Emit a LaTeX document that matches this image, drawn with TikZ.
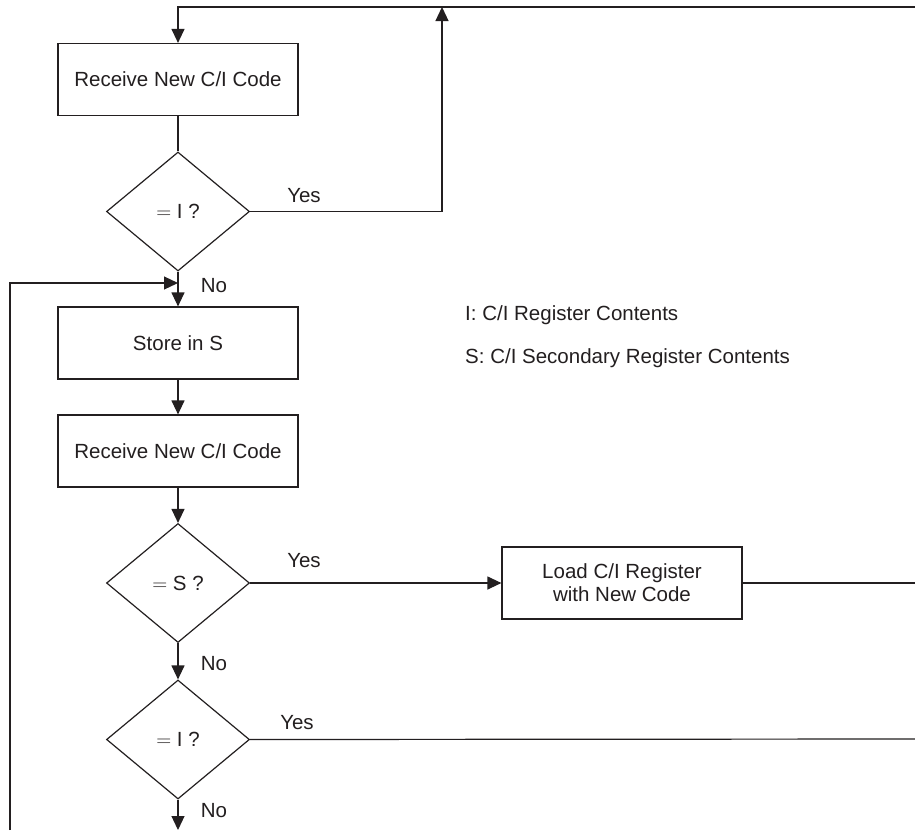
\documentclass[tikz,border=0pt]{standalone}
\usepackage{fontspec}
\setmainfont{Liberation Sans}
\usetikzlibrary{arrows.meta,shapes.geometric}
\definecolor{ink}{HTML}{231F20}
\begin{document}
\begin{tikzpicture}[x=1pt,y=-1pt,
  every node/.style={font=\fontsize{20.5pt}{24pt}\selectfont, text=ink},
  line/.style={draw=ink, line width=1.2pt},
  arr/.style={line, -{Triangle[length=14pt,width=13pt]}},
  procbox/.style={draw=ink, line width=1.2pt, rectangle, minimum width=240pt, minimum height=72pt, inner sep=0pt, align=center},
  decis/.style={draw=ink, line width=1.2pt, diamond, minimum width=143pt, minimum height=119pt, inner sep=0pt},
  lbl/.style={inner sep=0pt}]
\useasboundingbox (0,0) rectangle (915,830);
\fill[white] (0,0) rectangle (915,830);

\node[procbox] (b1) at (178,79.5) {Receive New C/I Code};
\node[decis] (d1) at (178,211.5) {$=$ I ?};
\node[procbox] (b2) at (178,343) {Store in S};
\node[procbox] (b3) at (178,451) {Receive New C/I Code};
\node[decis] (d2) at (178,583) {$=$ S ?};
\node[procbox] (b4) at (622,583) {Load C/I Register\\[-1pt]with New Code};
\node[decis] (d3) at (178,739.5) {$=$ I ?};

\coordinate (tr) at (915,7);
\coordinate (up) at (442,7);
\coordinate (bl) at (10,830);
\coordinate (lj) at (178,283);
\coordinate (r1) at (915,583);
\coordinate (r2) at (915,739);
\coordinate (bot) at (178,830);

\draw[arr] (tr) -| (b1.north);
\draw[line] (b1.south) -- (d1.north);
\draw[arr] (d1.east) -| (up);
\draw[arr] (d1.south) -- (b2.north);
\draw[arr] (bl) |- (lj);
\draw[arr] (b2.south) -- (b3.north);
\draw[arr] (b3.south) -- (d2.north);
\draw[arr] (d2.east) -- (b4.west);
\draw[line] (b4.east) -- (r1);
\draw[arr] (d2.south) -- (d3.north);
\draw[line] (d3.east) -- (r2);
\draw[arr] (d3.south) -- (bot);

\node[lbl] (y1) at (304,196) {Yes};
\node[lbl] (n1) at (214,286) {No};
\node[lbl] (y2) at (304,561) {Yes};
\node[lbl] (n2) at (214,664) {No};
\node[lbl] (y3) at (297,723) {Yes};
\node[lbl] (n3) at (214,811) {No};

\node[lbl, anchor=west] (leg1) at (465,315) {I: C/I Register Contents};
\node[lbl, anchor=west] (leg2) at (465,358) {S: C/I Secondary Register Contents};
\end{tikzpicture}
\end{document}
